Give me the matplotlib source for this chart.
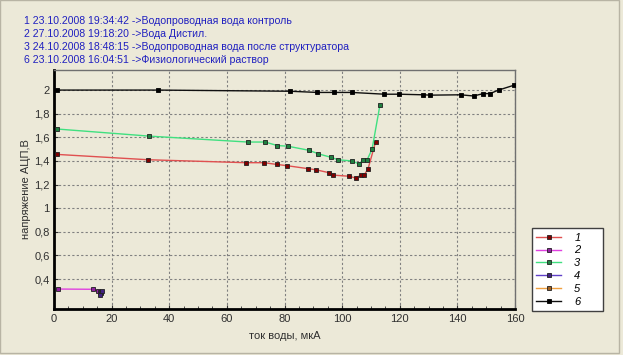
import matplotlib.pyplot as plt
from matplotlib.ticker import MultipleLocator, FuncFormatter
from matplotlib.patches import Rectangle

# header lines above the plot
header_lines = [
    "1 23.10.2008 19:34:42 ->Водопроводная вода контроль",
    "2 27.10.2008 19:18:20 ->Вода Дистил.",
    "3 24.10.2008 18:48:15 ->Водопроводная вода после структуратора",
    "6 23.10.2008 16:04:51 ->Физиологический раствор",
]

# series values (ток воды, мкА / напряжение АЦП, В)
s1_x = [1.2, 32.7, 66.5, 72.9, 77.4, 80.8, 88.0, 90.9, 95.5, 96.8, 102.5, 104.7, 106.6, 107.6, 109.0, 111.6]
s1_y = [1.455, 1.41, 1.385, 1.385, 1.37, 1.36, 1.335, 1.325, 1.30, 1.28, 1.27, 1.255, 1.28, 1.28, 1.333, 1.56]

s2_x = [1.3, 13.4, 15.4, 16.2]
s2_y = [0.315, 0.313, 0.30, 0.29]

s3_x = [1.2, 33.1, 67.2, 73.3, 77.5, 81.1, 88.5, 91.8, 96.2, 98.6, 103.3, 105.9, 107.3, 108.6, 110.4, 113.1]
s3_y = [1.67, 1.61, 1.56, 1.56, 1.53, 1.525, 1.49, 1.46, 1.43, 1.41, 1.40, 1.375, 1.41, 1.405, 1.50, 1.87]

s4_x = [15.8, 16.3, 16.6, 16.1]
s4_y = [0.29, 0.28, 0.295, 0.265]

s5_x = []
s5_y = []

s6_x = [1.2, 36.2, 82.0, 91.4, 97.3, 103.3, 114.7, 119.8, 128.1, 130.6, 141.1, 145.6, 149.0, 151.3, 154.3, 159.5]
s6_y = [2.0, 2.0, 1.99, 1.98, 1.98, 1.98, 1.965, 1.965, 1.96, 1.957, 1.96, 1.95, 1.97, 1.97, 2.0, 2.04]

labels = ["1", "2", "3", "4", "5", "6"]
line_colors = ["#e05050", "#e040e0", "#40e080", "#6040c8", "#f0a040", "#101010"]
marker_colors = ["#800000", "#9020a0", "#208040", "#402080", "#a06020", "#000000"]

bg = "#ece9d8"
plt.rcParams['font.family'] = ['Liberation Sans', 'DejaVu Sans']

fig = plt.figure(figsize=(6.23, 3.55), dpi=100, facecolor=bg)
ax = fig.add_axes([54 / 623, 1 - 309 / 355, 461 / 623, 239 / 355])
ax.set_facecolor(bg)

series = [(s1_x, s1_y), (s2_x, s2_y), (s3_x, s3_y), (s4_x, s4_y), (s5_x, s5_y), (s6_x, s6_y)]
for (xs, ys), lab, lc, mc in zip(series, labels, line_colors, marker_colors):
    ax.plot(xs, ys, color=lc, lw=1, marker='s', ms=3.3, mfc=mc,
            mec='#202020' if lab != "6" else '#000000', mew=0.6, label=lab, zorder=3)

ax.set_xlim(0, 160)
ax.set_ylim(0.146, 2.17)
ax.xaxis.set_major_locator(MultipleLocator(20))
ax.xaxis.set_minor_locator(MultipleLocator(5))
ax.set_yticks([0.4, 0.6, 0.8, 1.0, 1.2, 1.4, 1.6, 1.8, 2.0])
ax.yaxis.set_major_formatter(FuncFormatter(lambda v, p: f"{v:g}".replace(".", ",")))

ax.grid(True, which='major', color='#808080', ls=(0, (2, 2)), lw=0.8)
ax.tick_params(which='both', direction='in', labelsize=8, colors='#303030')
ax.tick_params(which='major', length=3)
ax.tick_params(axis='y', pad=3)
ax.tick_params(which='minor', length=2)

for side in ['left', 'bottom']:
    ax.spines[side].set_linewidth(2)
    ax.spines[side].set_color('black')
for side in ['top', 'right']:
    ax.spines[side].set_linewidth(1)
    ax.spines[side].set_color('#707070')

ax.set_xlabel("ток воды, мкА", fontsize=8, color='#303030', labelpad=5)
ax.set_ylabel("напряжение АЦП,В", fontsize=8, color='#303030')
# label overlaps the tick column, as in the original window
ax.yaxis.set_label_coords((31 - 54) / 461, 0.5)

for i, line in enumerate(header_lines):
    fig.text(24 / 623, 1 - (21 + 13 * i) / 355, line, fontsize=7.6, color='#2020c0', va='center')

leg = ax.legend(loc='lower left', bbox_to_anchor=(532 / 623, 1 - 311 / 355, 71 / 623, 82 / 355),
                bbox_transform=fig.transFigure, mode='expand', fancybox=False,
                edgecolor='#404040', framealpha=1, prop={'style': 'italic', 'size': 8},
                handlelength=2.2, labelspacing=0.25, borderaxespad=0, handletextpad=1.2)
leg.get_frame().set_linewidth(1)

# faint window border at right and bottom
fig.patches.append(Rectangle((0, 0.005), 0.994, 0.995, transform=fig.transFigure,
                             fill=False, edgecolor='#b8b4a4', lw=1))

fig.savefig("out.png", dpi=100, facecolor=bg)
